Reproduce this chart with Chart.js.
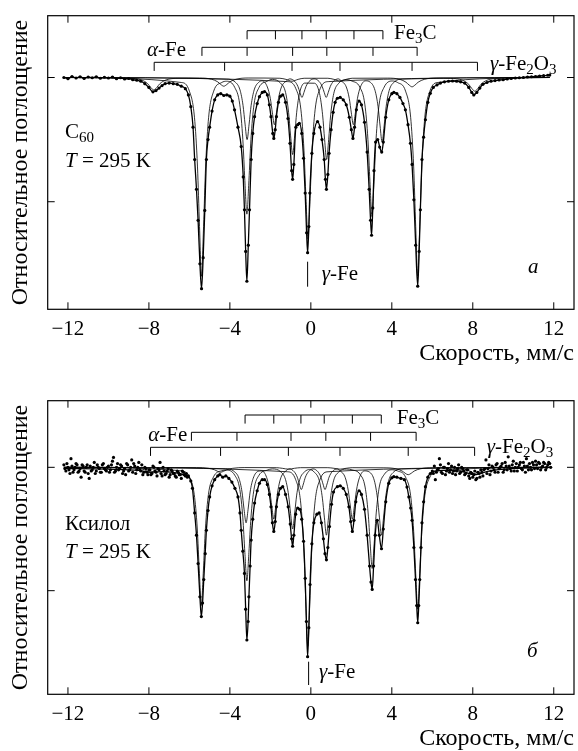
<!DOCTYPE html>
<html>
<head>
<meta charset="utf-8">
<script src="https://cdn.jsdelivr.net/npm/chart.js@4.4.0/dist/chart.umd.min.js"></script>
<style>
  html, body { margin: 0; padding: 0; background: #fff; overflow: hidden; width: 578px; height: 751px; }
  canvas { position: absolute; left: 0; }
  #specA { top: 0; }
  #specB { top: 385px; }
</style>
</head>
<body>
<canvas id="specA" width="578" height="375"></canvas>
<canvas id="specB" width="578" height="375"></canvas>
<script>
// axis ticks
const xTicks = [-12, -8, -4, 0, 4, 8, 12];
const yTicks = [0, -1];

// --- panel a (C60): measured points [velocity mm/s, relative absorption]
const dotsA = [
  [-12.2,0.0],[-12.0,-0.01],[-11.8,0.008],[-11.6,-0.004],[-11.4,0.006],[-11.2,-0.008],[-11.0,0.004],[-10.8,-0.002],
  [-10.6,0.006],[-10.4,-0.006],[-10.2,0.002],[-10.0,-0.004],[-9.8,0.004],[-9.6,-0.01],[-9.4,-0.002],[-9.2,-0.012],
  [-9.0,-0.008],[-8.8,-0.018],[-8.6,-0.022],[-8.4,-0.03],[-8.2,-0.05],[-8.0,-0.08],[-7.8,-0.115],[-7.65,-0.105],
  [-7.5,-0.085],[-7.35,-0.065],[-7.2,-0.05],[-7.0,-0.045],[-6.8,-0.05],[-6.6,-0.055],[-6.4,-0.07],[-6.2,-0.09],
  [-6.05,-0.14],[-5.93,-0.235],[-5.82,-0.40],[-5.74,-0.66],[-5.65,-0.90],[-5.57,-1.15],[-5.48,-1.50],[-5.40,-1.70],
  [-5.32,-1.45],[-5.24,-1.07],[-5.16,-0.66],[-5.08,-0.50],[-5.0,-0.40],[-4.88,-0.27],[-4.75,-0.18],[-4.6,-0.14],
  [-4.45,-0.13],[-4.3,-0.145],[-4.15,-0.14],[-4.0,-0.15],[-3.88,-0.19],[-3.77,-0.26],[-3.6,-0.40],[-3.44,-0.556],
  [-3.34,-0.80],[-3.28,-1.065],[-3.22,-1.40],[-3.16,-1.64],[-3.09,-1.35],[-3.03,-1.065],[-2.95,-0.66],[-2.87,-0.45],
  [-2.78,-0.315],[-2.65,-0.21],[-2.54,-0.154],[-2.4,-0.12],[-2.29,-0.114],[-2.15,-0.14],[-2.05,-0.22],[-1.97,-0.315],
  [-1.88,-0.45],[-1.83,-0.49],[-1.76,-0.42],[-1.70,-0.315],[-1.6,-0.20],[-1.5,-0.15],[-1.39,-0.14],[-1.25,-0.20],
  [-1.13,-0.33],[-1.03,-0.53],[-0.95,-0.75],[-0.90,-0.82],[-0.84,-0.70],[-0.74,-0.40],[-0.65,-0.38],[-0.57,-0.37],
  [-0.45,-0.45],[-0.36,-0.65],[-0.28,-0.93],[-0.21,-1.25],[-0.16,-1.41],[-0.10,-1.20],[-0.05,-0.93],[0.05,-0.61],
  [0.15,-0.45],[0.33,-0.355],[0.45,-0.40],[0.55,-0.50],[0.66,-0.66],[0.72,-0.82],[0.77,-0.90],[0.84,-0.78],
  [0.90,-0.61],[1.0,-0.42],[1.1,-0.28],[1.2,-0.20],[1.31,-0.167],[1.45,-0.16],[1.6,-0.18],[1.75,-0.22],
  [1.9,-0.32],[2.0,-0.42],[2.08,-0.49],[2.16,-0.40],[2.25,-0.26],[2.38,-0.19],[2.5,-0.22],[2.65,-0.36],
  [2.78,-0.60],[2.88,-0.90],[2.95,-1.15],[3.00,-1.27],[3.06,-1.05],[3.12,-0.75],[3.2,-0.52],[3.3,-0.50],
  [3.4,-0.56],[3.5,-0.60],[3.58,-0.52],[3.7,-0.32],[3.85,-0.18],[4.0,-0.13],[4.1,-0.12],[4.25,-0.13],
  [4.4,-0.16],[4.55,-0.21],[4.67,-0.26],[4.8,-0.38],[4.92,-0.53],[5.0,-0.70],[5.09,-0.985],[5.18,-1.35],
  [5.28,-1.68],[5.35,-1.40],[5.41,-1.065],[5.49,-0.66],[5.57,-0.48],[5.66,-0.34],[5.78,-0.20],[5.9,-0.127],
  [6.05,-0.08],[6.23,-0.06],[6.4,-0.045],[6.6,-0.035],[6.8,-0.03],[7.0,-0.028],[7.2,-0.03],[7.4,-0.035],
  [7.6,-0.045],[7.8,-0.08],[7.95,-0.12],[8.05,-0.14],[8.2,-0.12],[8.35,-0.085],[8.5,-0.055],[8.7,-0.04],
  [8.9,-0.03],[9.1,-0.025],[9.3,-0.02],[9.5,-0.018],[9.7,-0.012],[9.9,-0.008],[10.1,-0.004],[10.3,-0.002],
  [10.5,0.0],[10.7,0.004],[10.9,0.006],[11.1,0.008],[11.3,0.012],[11.5,0.015],[11.7,0.018],[11.8,0.02]
];

// panel a subspectra (thin lines)
const alphaA = [
  [-12.2,0],[-6.4,-0.04],[-6.0,-0.11],[-5.75,-0.32],[-5.6,-0.72],[-5.5,-1.20],[-5.4,-1.60],[-5.3,-1.20],[-5.2,-0.72],[-5.05,-0.32],[-4.8,-0.11],[-4.4,-0.04],
  [-4.16,-0.03],[-3.76,-0.08],[-3.51,-0.22],[-3.36,-0.50],[-3.26,-0.83],[-3.16,-1.10],[-3.06,-0.83],[-2.96,-0.50],[-2.81,-0.22],[-2.56,-0.08],[-2.16,-0.03],
  [-1.9,-0.015],[-1.5,-0.045],[-1.25,-0.12],[-1.1,-0.28],[-1.0,-0.47],[-0.9,-0.62],[-0.8,-0.47],[-0.7,-0.28],[-0.55,-0.12],[-0.3,-0.045],
  [0.18,-0.046],[0.43,-0.13],[0.58,-0.30],[0.68,-0.50],[0.78,-0.66],[0.88,-0.50],[0.98,-0.30],[1.13,-0.13],[1.38,-0.046],[1.78,-0.017],
  [2.02,-0.028],[2.42,-0.078],[2.67,-0.22],[2.82,-0.50],[2.92,-0.84],[3.02,-1.12],[3.12,-0.84],[3.22,-0.50],[3.37,-0.22],[3.62,-0.078],[4.02,-0.028],
  [4.28,-0.04],[4.68,-0.11],[4.93,-0.32],[5.08,-0.72],[5.18,-1.20],[5.28,-1.60],[5.38,-1.20],[5.48,-0.72],[5.63,-0.32],[5.88,-0.11],[6.28,-0.04],[11.8,0]
];
const fe3cA = [
  [-12.2,0],[-4.15,-0.013],[-3.75,-0.035],[-3.5,-0.10],[-3.35,-0.225],[-3.25,-0.375],[-3.15,-0.50],[-3.05,-0.375],[-2.95,-0.225],[-2.8,-0.10],[-2.55,-0.035],
  [-2.4,-0.027],[-2.15,-0.076],[-2.0,-0.17],[-1.9,-0.285],[-1.8,-0.38],[-1.7,-0.285],[-1.6,-0.17],[-1.45,-0.076],[-1.2,-0.027],
  [-1.04,-0.011],[-0.79,-0.032],[-0.64,-0.072],[-0.54,-0.12],[-0.44,-0.16],[-0.34,-0.12],[-0.24,-0.072],[-0.09,-0.032],[0.16,-0.011],
  [0.41,-0.032],[0.56,-0.072],[0.66,-0.12],[0.76,-0.16],[0.86,-0.12],[0.96,-0.072],[1.11,-0.032],[1.36,-0.011],
  [1.5,-0.027],[1.75,-0.076],[1.9,-0.17],[2.0,-0.285],[2.1,-0.38],[2.2,-0.285],[2.3,-0.17],[2.45,-0.076],[2.7,-0.027],
  [2.92,-0.036],[3.17,-0.104],[3.32,-0.234],[3.42,-0.39],[3.52,-0.52],[3.62,-0.39],[3.72,-0.234],[3.87,-0.104],[4.12,-0.036],[4.52,-0.013],[11.8,0]
];
const gammaFeA = [
  [-12.2,0],[-1.14,-0.033],[-0.74,-0.09],[-0.49,-0.26],[-0.34,-0.585],[-0.24,-0.975],[-0.14,-1.30],[-0.04,-0.975],[0.06,-0.585],[0.21,-0.26],[0.46,-0.09],[0.86,-0.033],[11.8,0]
];
const fe2o3A = [
  [-12.2,0],[-8.96,-0.006],[-8.36,-0.02],[-8.06,-0.05],[-7.91,-0.08],[-7.76,-0.10],[-7.61,-0.08],[-7.46,-0.05],[-7.16,-0.02],[-6.56,-0.006],
  [-5.5,-0.004],[-4.9,-0.014],[-4.6,-0.035],[-4.45,-0.056],[-4.3,-0.07],[-4.15,-0.056],[-4.0,-0.035],[-3.7,-0.014],[-3.1,-0.004],
  [-1.53,-0.006],[-1.23,-0.015],[-0.93,-0.03],[-0.63,-0.015],[-0.33,-0.006],
  [0.84,-0.006],[1.14,-0.015],[1.44,-0.03],[1.74,-0.015],[2.04,-0.006],
  [3.8,-0.005],[4.4,-0.015],[4.7,-0.038],[4.85,-0.06],[5.0,-0.075],[5.15,-0.06],[5.3,-0.038],[5.6,-0.015],[6.2,-0.005],
  [6.9,-0.007],[7.5,-0.022],[7.8,-0.055],[7.95,-0.088],[8.1,-0.11],[8.25,-0.088],[8.4,-0.055],[8.7,-0.022],[9.3,-0.007],[11.8,0]
];
// line positions marked by the brackets, mm/s
const fe3cLinesA = [-3.15, -1.75, -0.44, 0.76, 2.13, 3.56];
const alphaLinesA = [-5.38, -3.15, -0.90, 0.79, 3.07, 5.25];
const fe2o3LinesA = [-7.74, -4.26, -0.93, 1.44, 5.0, 8.23];
const gammaMarkA = -0.16;

// --- panel b (xylene)
const flatLeftB = [
  [-12.2,0.02],[-12.1,-0.03],[-12.0,0.0],[-11.9,-0.05],[-11.85,0.07],[-11.8,0.01],[-11.7,-0.02],[-11.6,0.03],[-11.5,-0.04],
  [-11.4,-0.01],[-11.35,-0.08],[-11.3,0.02],[-11.2,-0.03],[-11.1,0.0],[-11.0,-0.05],[-10.95,-0.09],[-10.9,0.01],[-10.8,-0.02],
  [-10.7,0.04],[-10.6,-0.03],[-10.5,0.0],[-10.4,-0.04],[-10.3,0.02],[-10.2,-0.01],[-10.1,-0.03],[-10.0,0.01],[-9.9,-0.02],
  [-9.8,0.05],[-9.75,0.08],[-9.7,-0.04],[-9.6,0.0],[-9.5,-0.02],[-9.4,0.02],[-9.3,-0.05],[-9.2,-0.01],[-9.1,0.03],[-9.0,-0.03],
  [-8.9,0.0],[-8.85,0.06],[-8.8,-0.04],[-8.7,0.01],[-8.6,-0.02],[-8.5,0.04],[-8.4,-0.03],[-8.3,-0.06],[-8.2,0.0],[-8.1,-0.04],
  [-8.0,-0.02],[-7.9,-0.06],[-7.8,0.01],[-7.7,-0.03],[-7.6,-0.07],[-7.5,-0.02],[-7.45,0.04],[-7.4,-0.05],[-7.3,0.0],[-7.2,-0.06],
  [-7.1,-0.03],[-7.0,-0.08],[-6.9,-0.02],[-6.8,-0.05],[-6.7,-0.07],[-6.6,-0.03],[-6.5,-0.06],[-6.4,-0.09],[-6.3,-0.04],[-6.2,-0.07],[-6.1,-0.08]
];
const flatLeftB2 = [
  [-12.15,-0.01],[-12.05,0.03],[-11.95,-0.02],[-11.75,-0.04],[-11.65,0.0],[-11.55,0.02],[-11.45,-0.03],[-11.25,0.01],
  [-11.15,-0.04],[-11.05,0.02],[-10.85,-0.03],[-10.75,0.0],[-10.65,-0.05],[-10.55,0.02],[-10.45,-0.01],[-10.35,-0.04],
  [-10.25,0.03],[-10.15,-0.02],[-10.05,0.0],[-9.95,-0.04],[-9.85,0.02],[-9.65,-0.03],[-9.55,0.03],[-9.45,-0.01],
  [-9.35,0.01],[-9.25,-0.03],[-9.15,-0.06],[-9.05,0.02],[-8.95,-0.02],[-8.75,0.03],[-8.65,-0.05],[-8.55,0.0],
  [-8.45,-0.02],[-8.35,0.02],[-8.25,-0.04],[-8.15,-0.01],[-8.05,-0.06],[-7.95,-0.02],[-7.85,-0.05],[-7.75,0.0],
  [-7.65,-0.04],[-7.55,-0.01],[-7.35,-0.07],[-7.25,-0.03],[-7.15,-0.05],[-7.05,-0.01],[-6.95,-0.06],[-6.85,-0.03],
  [-6.75,-0.05],[-6.65,-0.08],[-6.55,-0.04],[-6.45,-0.06],[-6.35,-0.03],[-6.25,-0.06],[-6.15,-0.05]
];
const dipsB = [
  [-6.05,-0.07],[-5.93,-0.11],[-5.85,-0.17],[-5.74,-0.37],[-5.65,-0.55],[-5.57,-0.78],[-5.48,-1.05],[-5.41,-1.21],
  [-5.35,-1.10],[-5.29,-0.91],[-5.22,-0.70],[-5.16,-0.51],[-5.08,-0.35],[-5.0,-0.24],[-4.88,-0.15],[-4.75,-0.10],
  [-4.6,-0.07],[-4.5,-0.06],[-4.35,-0.08],[-4.2,-0.07],[-4.05,-0.09],[-3.9,-0.12],[-3.75,-0.17],[-3.6,-0.24],
  [-3.5,-0.37],[-3.44,-0.51],[-3.36,-0.68],[-3.28,-0.86],[-3.22,-1.15],[-3.16,-1.40],[-3.10,-1.25],[-3.06,-1.05],
  [-3.0,-0.80],[-2.95,-0.59],[-2.87,-0.42],[-2.78,-0.29],[-2.65,-0.19],[-2.54,-0.13],[-2.4,-0.10],[-2.29,-0.10],
  [-2.15,-0.14],[-2.05,-0.22],[-1.97,-0.32],[-1.90,-0.45],[-1.83,-0.52],[-1.76,-0.44],[-1.70,-0.32],[-1.6,-0.22],
  [-1.5,-0.17],[-1.39,-0.157],[-1.25,-0.22],[-1.12,-0.32],[-1.02,-0.46],[-0.95,-0.58],[-0.90,-0.64],[-0.84,-0.55],
  [-0.75,-0.38],[-0.65,-0.33],[-0.55,-0.34],[-0.45,-0.42],[-0.36,-0.60],[-0.28,-0.90],[-0.22,-1.25],[-0.16,-1.535],
  [-0.10,-1.30],[-0.04,-0.95],[0.05,-0.62],[0.15,-0.45],[0.3,-0.38],[0.41,-0.37],[0.52,-0.45],[0.62,-0.58],
  [0.70,-0.70],[0.77,-0.75],[0.84,-0.65],[0.92,-0.48],[1.02,-0.30],[1.12,-0.20],[1.31,-0.157],[1.45,-0.15],
  [1.6,-0.17],[1.75,-0.22],[1.88,-0.32],[1.97,-0.44],[2.05,-0.52],[2.13,-0.43],[2.22,-0.28],[2.38,-0.19],
  [2.5,-0.22],[2.65,-0.34],[2.78,-0.55],[2.9,-0.80],[2.97,-0.93],[3.03,-0.99],[3.10,-0.80],[3.18,-0.55],
  [3.28,-0.43],[3.38,-0.55],[3.49,-0.66],[3.58,-0.50],[3.7,-0.28],[3.85,-0.13],[4.0,-0.085],[4.1,-0.076],
  [4.25,-0.08],[4.45,-0.09],[4.62,-0.10],[4.75,-0.16],[4.84,-0.24],[4.93,-0.33],[5.0,-0.43],[5.09,-0.65],
  [5.17,-0.91],[5.23,-1.12],[5.28,-1.26],[5.33,-1.12],[5.38,-0.91],[5.44,-0.65],[5.49,-0.45],[5.57,-0.28],
  [5.66,-0.157],[5.78,-0.08],[5.9,-0.05]
];
const flatRightB = [
  [6.0,-0.03],[6.1,0.01],[6.15,-0.10],[6.2,-0.04],[6.3,-0.01],[6.35,0.07],[6.4,0.02],[6.5,-0.05],[6.6,0.0],[6.7,-0.03],
  [6.8,0.03],[6.9,-0.02],[7.0,-0.05],[7.1,0.0],[7.2,-0.03],[7.3,0.02],[7.4,-0.04],[7.5,-0.01],[7.6,-0.06],[7.7,-0.02],
  [7.8,-0.07],[7.9,-0.04],[8.0,-0.08],[8.1,-0.03],[8.15,-0.10],[8.2,-0.09],[8.3,-0.05],[8.4,-0.02],[8.5,-0.07],[8.6,-0.01],
  [8.65,0.06],[8.7,-0.05],[8.8,0.02],[8.9,-0.03],[9.0,0.0],[9.1,-0.04],[9.2,0.03],[9.3,-0.01],[9.4,0.01],[9.5,-0.04],
  [9.6,0.04],[9.7,-0.02],[9.75,0.085],[9.8,0.01],[9.9,-0.03],[10.0,0.05],[10.1,0.0],[10.2,-0.03],[10.3,0.02],[10.4,-0.01],
  [10.5,0.04],[10.6,-0.04],[10.65,0.07],[10.7,0.01],[10.8,0.03],[10.9,-0.02],[11.0,0.02],[11.1,0.05],[11.2,-0.01],[11.3,0.03],
  [11.4,0.0],[11.5,0.04],[11.6,-0.02],[11.7,0.02],[11.8,0.03],[11.85,0.0]
];
const flatRightB2 = [
  [6.05,-0.05],[6.25,-0.02],[6.45,-0.04],[6.55,0.0],[6.65,-0.06],[6.75,-0.01],[6.85,-0.04],[6.95,0.01],
  [7.05,-0.03],[7.15,-0.06],[7.25,-0.01],[7.35,-0.05],[7.45,0.0],[7.55,-0.03],[7.65,-0.05],[7.75,-0.02],
  [7.85,-0.09],[7.95,-0.05],[8.05,-0.06],[8.25,-0.04],[8.35,-0.08],[8.45,-0.04],[8.55,-0.02],[8.75,-0.01],
  [8.85,-0.06],[8.95,0.01],[9.05,-0.02],[9.15,0.02],[9.25,-0.04],[9.35,0.0],[9.45,0.03],[9.55,-0.02],
  [9.65,0.01],[9.85,-0.01],[9.95,0.02],[10.05,-0.03],[10.15,0.03],[10.25,0.0],[10.35,0.04],[10.45,-0.02],
  [10.55,0.01],[10.75,-0.02],[10.85,0.0],[10.95,0.04],[11.05,-0.01],[11.15,0.02],[11.25,0.04],[11.35,-0.02],
  [11.45,0.01],[11.55,0.03],[11.65,0.0],[11.75,0.04]
];
// smooth fit through the flat parts of panel b
const fitLeftB = [[-12.2,-0.01],[-10.0,-0.015],[-8.5,-0.025],[-7.9,-0.04],[-7.3,-0.035],[-6.5,-0.05],[-6.2,-0.065]];
const fitRightB = [[6.1,-0.03],[6.5,-0.025],[7.4,-0.03],[8.1,-0.06],[8.8,-0.03],[10.0,-0.01],[11.85,0.0]];

const alphaB = [
  [-12.2,0],[-6.41,-0.028],[-6.01,-0.078],[-5.76,-0.22],[-5.61,-0.50],[-5.51,-0.84],[-5.41,-1.12],[-5.31,-0.84],[-5.21,-0.50],[-5.06,-0.22],[-4.81,-0.078],[-4.41,-0.028],
  [-4.16,-0.023],[-3.76,-0.064],[-3.51,-0.18],[-3.36,-0.41],[-3.26,-0.69],[-3.16,-0.92],[-3.06,-0.69],[-2.96,-0.41],[-2.81,-0.18],[-2.56,-0.064],[-2.16,-0.023],
  [-1.9,-0.013],[-1.5,-0.035],[-1.25,-0.10],[-1.1,-0.225],[-1.0,-0.375],[-0.9,-0.50],[-0.8,-0.375],[-0.7,-0.225],[-0.55,-0.10],[-0.3,-0.035],[-0.06,-0.018],
  [0.17,-0.039],[0.42,-0.11],[0.57,-0.25],[0.67,-0.41],[0.77,-0.55],[0.87,-0.41],[0.97,-0.25],[1.12,-0.11],[1.37,-0.039],[1.77,-0.014],
  [2.03,-0.02],[2.43,-0.057],[2.68,-0.16],[2.83,-0.37],[2.93,-0.615],[3.03,-0.82],[3.13,-0.615],[3.23,-0.37],[3.38,-0.16],[3.63,-0.057],[4.03,-0.02],
  [4.28,-0.029],[4.68,-0.08],[4.93,-0.23],[5.08,-0.52],[5.18,-0.86],[5.28,-1.15],[5.38,-0.86],[5.48,-0.52],[5.63,-0.23],[5.88,-0.08],[6.28,-0.029],[11.8,0]
];
const fe3cB = [
  [-12.2,0],[-4.2,-0.011],[-3.8,-0.032],[-3.55,-0.09],[-3.4,-0.20],[-3.3,-0.34],[-3.2,-0.45],[-3.1,-0.34],[-3.0,-0.20],[-2.85,-0.09],[-2.6,-0.032],
  [-2.43,-0.029],[-2.18,-0.084],[-2.03,-0.19],[-1.93,-0.315],[-1.83,-0.42],[-1.73,-0.315],[-1.63,-0.19],[-1.48,-0.084],[-1.23,-0.029],
  [-1.07,-0.013],[-0.82,-0.036],[-0.67,-0.08],[-0.57,-0.135],[-0.47,-0.18],[-0.37,-0.135],[-0.27,-0.08],[-0.12,-0.036],[0.11,-0.013],
  [0.35,-0.036],[0.5,-0.08],[0.6,-0.135],[0.7,-0.18],[0.8,-0.135],[0.9,-0.08],[1.05,-0.036],[1.3,-0.013],
  [1.45,-0.029],[1.7,-0.084],[1.85,-0.19],[1.95,-0.315],[2.05,-0.42],[2.15,-0.315],[2.25,-0.19],[2.4,-0.084],[2.65,-0.029],
  [2.89,-0.038],[3.14,-0.11],[3.29,-0.25],[3.39,-0.41],[3.49,-0.55],[3.59,-0.41],[3.69,-0.25],[3.84,-0.11],[4.09,-0.038],[4.49,-0.014],[11.8,0]
];
const gammaFeB = [
  [-12.2,0],[-1.15,-0.036],[-0.75,-0.10],[-0.5,-0.29],[-0.35,-0.65],[-0.25,-1.09],[-0.15,-1.45],[-0.05,-1.09],[0.05,-0.65],[0.2,-0.29],[0.45,-0.10],[0.85,-0.036],[11.8,0]
];
const fe2o3B = [
  [-12.2,0],[-9.12,-0.002],[-8.52,-0.008],[-8.22,-0.02],[-8.07,-0.032],[-7.92,-0.04],[-7.77,-0.032],[-7.62,-0.02],[-7.32,-0.008],[-6.72,-0.002],
  [-5.66,-0.002],[-5.06,-0.008],[-4.76,-0.02],[-4.61,-0.032],[-4.46,-0.04],[-4.31,-0.032],[-4.16,-0.02],[-3.86,-0.008],[-3.26,-0.002],
  [-1.71,-0.003],[-1.41,-0.008],[-1.11,-0.015],[-0.81,-0.008],[-0.51,-0.003],
  [0.84,-0.003],[1.14,-0.008],[1.44,-0.015],[1.74,-0.008],[2.04,-0.003],
  [3.61,-0.004],[4.21,-0.012],[4.51,-0.03],[4.66,-0.048],[4.81,-0.06],[4.96,-0.048],[5.11,-0.03],[5.41,-0.012],[6.01,-0.004],
  [6.89,-0.003],[7.49,-0.01],[7.79,-0.025],[7.94,-0.04],[8.09,-0.05],[8.24,-0.04],[8.39,-0.025],[8.69,-0.01],[9.29,-0.003],[11.8,0]
];
const fe3cLinesB = [-3.25, -1.83, -0.49, 0.66, 2.05, 3.48];
const alphaLinesB = [-5.9, -3.65, -0.98, 0.74, 2.95, 5.2];
const fe2o3LinesB = [-7.92, -4.46, -1.11, 1.44, 4.81, 8.09];
const gammaMarkB = -0.11;

// pick an installed serif face (falls back to the generic family)
function pickSerif() {
  const c = document.createElement('canvas').getContext('2d');
  const probe = 'Относительное Fe 0123456789 wmWM';
  const w = f => { c.font = '40px ' + f; return c.measureText(probe).width; };
  const cands = ['Liberation Serif', 'DejaVu Serif', 'Noto Serif', 'Tinos', 'Times New Roman', 'FreeSerif', 'Nimbus Roman'];
  for (const name of cands) {
    if (w('"' + name + '", monospace') !== w('monospace') ||
        w('"' + name + '", sans-serif') !== w('sans-serif')) return name;
  }
  return null;
}
const serifName = pickSerif();
const SERIF = serifName ? '"' + serifName + '", serif' : 'serif';
const FS = serifName === 'DejaVu Serif' ? 19 : 21;

// title size chosen so the text spans about as far as in the figure
function fitSize(text, target) {
  const c = document.createElement('canvas').getContext('2d');
  c.font = FS + 'px ' + SERIF;
  const s = FS * target / c.measureText(text).width;
  return Math.max(FS - 2, Math.min(FS + 3, s));
}
const yTitle = 'Относительное поглощение';
const xTitle = 'Скорость, мм/с';
const yTitleSize = fitSize(yTitle, 300);
const xTitleSize = fitSize(xTitle, 172);

const pts = arr => arr.map(([x, y]) => ({ x, y }));
const fmtTick = v => (v < 0 ? '\u2212' + Math.abs(v) : String(v));

// '*' = italic, '_' = subscript
function drawRich(ctx, x, y, parts) {
  parts.forEach(part => {
    let t = part, it = false, sub = false;
    if (t[0] === '*') { it = true; t = t.slice(1); }
    if (t[0] === '_') { sub = true; t = t.slice(1); }
    const size = sub ? Math.round(FS * 0.72) : FS;
    ctx.font = (it ? 'italic ' : '') + size + 'px ' + SERIF;
    ctx.fillText(t, x, y + (sub ? 4 : 0));
    x += ctx.measureText(t).width;
  });
}

function drawDeco(chart, p) {
  const { ctx, chartArea: a, scales: { x, y } } = chart;
  ctx.save();
  ctx.strokeStyle = '#000';
  ctx.fillStyle = '#000';
  ctx.lineWidth = 1.2;
  ctx.strokeRect(a.left, a.top, a.right - a.left, a.bottom - a.top);

  ctx.lineWidth = 1;
  ctx.beginPath();
  xTicks.forEach(v => {
    const px = x.getPixelForValue(v);
    ctx.moveTo(px, a.bottom); ctx.lineTo(px, a.bottom - 7);
    ctx.moveTo(px, a.top); ctx.lineTo(px, a.top + 7);
  });
  yTicks.forEach(v => {
    const py = y.getPixelForValue(v);
    ctx.moveTo(a.left, py); ctx.lineTo(a.left + 7, py);
    ctx.moveTo(a.right, py); ctx.lineTo(a.right - 7, py);
  });
  // brackets over the sextets
  p.brackets.forEach(b => {
    const xs = b.lines.map(v => x.getPixelForValue(v));
    ctx.moveTo(xs[0], b.y); ctx.lineTo(xs[xs.length - 1], b.y);
    xs.forEach(px => { ctx.moveTo(px, b.y); ctx.lineTo(px, b.y + 8.6); });
  });
  // gamma-Fe singlet marker
  const gx = x.getPixelForValue(p.gamma.v);
  ctx.moveTo(gx, p.gamma.y0); ctx.lineTo(gx, p.gamma.y1);
  ctx.stroke();

  ctx.textBaseline = 'alphabetic';
  ctx.textAlign = 'left';
  p.labels.forEach(l => drawRich(ctx, l.x, l.y, l.parts));
  ctx.restore();
}

function makePanel(id, p) {
  const thin = d => ({
    data: pts(d), showLine: true, pointRadius: 0, borderWidth: 0.8,
    borderColor: '#000', cubicInterpolationMode: 'monotone', tension: 0.4, fill: false
  });
  return new Chart(document.getElementById(id), {
    type: 'scatter',
    data: {
      datasets: [
        { data: pts(p.dots), showLine: false, pointRadius: 1.6, pointBackgroundColor: '#000', pointBorderWidth: 0 },
        { data: pts(p.fit), showLine: true, pointRadius: 0, borderWidth: 1.3, borderColor: '#000',
          cubicInterpolationMode: 'monotone', tension: 0.4, fill: false },
        ...p.parts.map(thin)
      ]
    },
    options: {
      responsive: false,
      animation: false,
      devicePixelRatio: 1,
      events: [],
      layout: { padding: { top: 15.7, right: 1, left: 0, bottom: 0 } },
      plugins: { legend: { display: false }, tooltip: { enabled: false } },
      scales: {
        x: {
          type: 'linear', min: -13, max: 13,
          afterBuildTicks: s => { s.ticks = xTicks.map(v => ({ value: v })); },
          afterFit: s => { s.height = 65.7; },
          grid: { display: false, drawTicks: false },
          border: { display: false },
          ticks: { color: '#000', padding: 8, maxRotation: 0, font: { family: SERIF, size: FS }, callback: fmtTick },
          title: { display: true, text: xTitle, align: 'end', color: '#000',
                   font: { family: SERIF, size: xTitleSize }, padding: { top: 0, bottom: 7 } }
        },
        y: {
          type: 'linear', min: p.yMin, max: p.yMax,
          afterFit: s => { s.width = 47.7; },
          grid: { display: false, drawTicks: false },
          border: { display: false },
          ticks: { display: false },
          title: { display: true, text: yTitle, color: '#000',
                   font: { family: SERIF, size: yTitleSize }, padding: { top: 6, bottom: 0 } }
        }
      }
    },
    plugins: [{ id: 'deco', afterDatasetsDraw: chart => drawDeco(chart, p) }]
  });
}

makePanel('specA', {
  dots: dotsA, fit: dotsA, parts: [alphaA, fe3cA, gammaFeA, fe2o3A],
  yMin: -1.866, yMax: 0.4976,
  brackets: [
    { lines: fe3cLinesA, y: 30.7 },
    { lines: alphaLinesA, y: 47.3 },
    { lines: fe2o3LinesA, y: 62.3 }
  ],
  gamma: { v: gammaMarkA, y0: 261.7, y1: 286.7 },
  labels: [
    { x: 394, y: 39.3, parts: ['Fe', '_3', 'C'] },
    { x: 147, y: 56, parts: ['*α', '-Fe'] },
    { x: 490, y: 70, parts: ['*γ', '-Fe', '_2', 'O', '_3'] },
    { x: 65, y: 137.7, parts: ['C', '_60'] },
    { x: 65, y: 166.7, parts: ['*T', ' = 295 K'] },
    { x: 321.7, y: 279.5, parts: ['*γ', '-Fe'] },
    { x: 528, y: 273.3, parts: ['*a'] }
  ]
});

makePanel('specB', {
  dots: [...flatLeftB, ...flatLeftB2, ...dipsB, ...flatRightB, ...flatRightB2],
  fit: [...fitLeftB, ...dipsB, ...fitRightB],
  parts: [alphaB, fe3cB, gammaFeB, fe2o3B],
  yMin: -1.840, yMax: 0.540,
  brackets: [
    { lines: fe3cLinesB, y: 30 },
    { lines: alphaLinesB, y: 47.3 },
    { lines: fe2o3LinesB, y: 62.3 }
  ],
  gamma: { v: gammaMarkB, y0: 276.7, y1: 300 },
  labels: [
    { x: 396.7, y: 39, parts: ['Fe', '_3', 'C'] },
    { x: 148.3, y: 56, parts: ['*α', '-Fe'] },
    { x: 486.7, y: 67.7, parts: ['*γ', '-Fe', '_2', 'O', '_3'] },
    { x: 65, y: 145, parts: ['Ксилол'] },
    { x: 65, y: 173.3, parts: ['*T', ' = 295 K'] },
    { x: 319, y: 293.3, parts: ['*γ', '-Fe'] },
    { x: 527, y: 271.7, parts: ['*б'] }
  ]
});
</script>
</body>
</html>
